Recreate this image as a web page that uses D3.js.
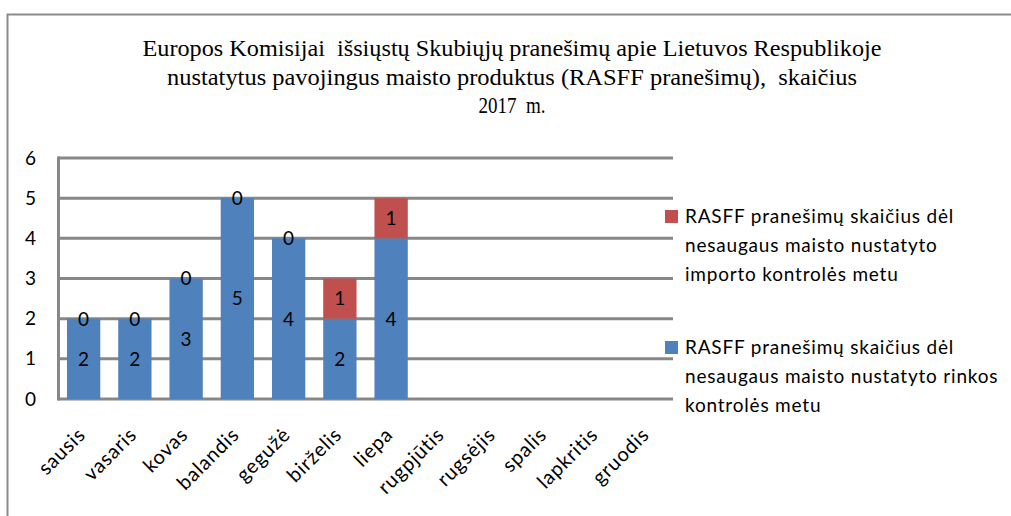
<!DOCTYPE html>
<html lang="lt">

<head>
    <meta charset="UTF-8" />
    <title>RASFF pranešimai 2017</title>
    <script src="https://d3js.org/d3.v7.min.js"></script>
    <style>
        body {
            margin: 0;
            background: #fff;
        }

        .title {
            font-family: "Liberation Serif", serif;
            font-size: 23px;
            fill: #000;
        }

        .tick-label,
        .bar-label,
        .legend-text {
            font-family: Lato, "Open Sans", sans-serif;
            fill: #000;
        }
    </style>
</head>

<body>
    <svg width="1011" height="516"></svg>
    <script>
        // chart data
        const months = ["sausis", "vasaris", "kovas", "balandis", "gegužė", "birželis", "liepa",
            "rugpjūtis", "rugsėjis", "spalis", "lapkritis", "gruodis"];
        const marketValues = [2, 2, 3, 5, 4, 2, 4, null, null, null, null, null];
        const importValues = [0, 0, 0, 0, 0, 1, 1, null, null, null, null, null];
        const yTicks = [0, 1, 2, 3, 4, 5, 6];
        const titleLines = [
            "Europos Komisijai  išsiųstų Skubiųjų pranešimų apie Lietuvos Respublikoje",
            "nustatytus pavojingus maisto produktus (RASFF pranešimų),  skaičius",
            "2017  m."
        ];
        const legendImport = ["RASFF pranešimų skaičius dėl", "nesaugaus maisto nustatyto", "importo kontrolės metu"];
        const legendMarket = ["RASFF pranešimų skaičius dėl", "nesaugaus maisto nustatyto rinkos", "kontrolės metu"];

        const blue = "#4f81bd",
            red = "#c0504d",
            grid = "#878787";

        const svg = d3.select("svg");

        // outer frame (only top and left edges are visible)
        svg.append("path")
            .attr("d", "M7.5,516 V14.5 H1011")
            .attr("fill", "none")
            .attr("stroke", "#8c8c8c")
            .attr("stroke-width", 2);

        // title - squeezed serif like the original
        const titleLens = [739, 690, 67];
        svg.selectAll(".title")
            .data(titleLines)
            .enter()
            .append("text")
            .attr("class", "title")
            .attr("x", 512)
            .attr("y", (d, i) => 56 + i * 28.5)
            .attr("text-anchor", "middle")
            .attr("textLength", (d, i) => titleLens[i])
            .attr("lengthAdjust", "spacingAndGlyphs")
            .style("white-space", "pre")
            .text(d => d);

        const x = d3.scaleBand()
            .domain(months)
            .range([58, 673])
            .paddingInner(0.35)
            .paddingOuter(0.175);

        const y = d3.scaleLinear()
            .domain([0, 6])
            .range([399, 158]);

        // grid lines
        svg.append("g")
            .selectAll("line")
            .data(yTicks)
            .enter()
            .append("line")
            .attr("x1", 58)
            .attr("x2", 673)
            .attr("y1", d => y(d))
            .attr("y2", d => y(d))
            .attr("stroke", grid)
            .attr("stroke-width", 3);

        svg.append("line")
            .attr("x1", 58.5)
            .attr("x2", 58.5)
            .attr("y1", y(6) - 1.5)
            .attr("y2", y(0) + 1.5)
            .attr("stroke", grid)
            .attr("stroke-width", 3);

        // y tick labels
        svg.append("g")
            .selectAll("text")
            .data(yTicks)
            .enter()
            .append("text")
            .attr("class", "tick-label")
            .attr("x", 36)
            .attr("y", d => y(d))
            .attr("dy", "0.35em")
            .attr("text-anchor", "end")
            .style("font-size", "19px")
            .text(d => d);

        // stacked bars
        const rows = months.map((m, i) => ({
            month: m,
            market: marketValues[i],
            imp: importValues[i]
        })).filter(d => d.market !== null);

        const stack = d3.stack().keys(["market", "imp"]);
        const series = stack(rows);
        const colors = [blue, red];

        const layer = svg.selectAll(".layer")
            .data(series)
            .enter()
            .append("g")
            .attr("class", "layer");

        layer.selectAll("rect")
            .data((s, i) => s.map(p => ({ p, i })))
            .enter()
            .append("rect")
            .attr("x", d => x(d.p.data.month))
            .attr("y", d => y(d.p[1]))
            .attr("width", x.bandwidth())
            .attr("height", d => y(d.p[0]) - y(d.p[1]))
            .attr("fill", d => colors[d.i]);

        // value labels in the middle of each segment
        layer.selectAll("text")
            .data((s, i) => s.map(p => ({ p, key: s.key })))
            .enter()
            .append("text")
            .attr("class", "bar-label")
            .attr("x", d => x(d.p.data.month) + x.bandwidth() / 2)
            .attr("y", d => y((d.p[0] + d.p[1]) / 2))
            .attr("dy", "0.36em")
            .attr("text-anchor", "middle")
            .style("font-size", "19px")
            .text(d => d.p.data[d.key]);

        // x labels, rotated
        svg.append("g")
            .selectAll("text")
            .data(months)
            .enter()
            .append("text")
            .attr("class", "tick-label")
            .attr("text-anchor", "end")
            .attr("transform", d => "translate(" + (x(d) + x.bandwidth() / 2 + 3) + ",436) rotate(-45)")
            .style("font-size", "20px")
            .style("letter-spacing", "0.8px")
            .text(d => d);

        // legend
        const legend = [
            { color: red, lines: legendImport, y: 216 },
            { color: blue, lines: legendMarket, y: 347 }
        ];
        const lg = svg.selectAll(".legend")
            .data(legend)
            .enter()
            .append("g")
            .attr("class", "legend");

        lg.append("rect")
            .attr("x", 665)
            .attr("y", d => d.y - 6)
            .attr("width", 13)
            .attr("height", 13)
            .attr("fill", d => d.color);

        lg.selectAll("text")
            .data(d => d.lines.map((t, i) => ({ t, y: d.y + i * 29 })))
            .enter()
            .append("text")
            .attr("class", "legend-text")
            .attr("x", 685)
            .attr("y", d => d.y)
            .attr("dy", "0.35em")
            .style("font-size", "19px")
            .style("letter-spacing", "0.8px")
            .text(d => d.t);
    </script>
</body>

</html>
